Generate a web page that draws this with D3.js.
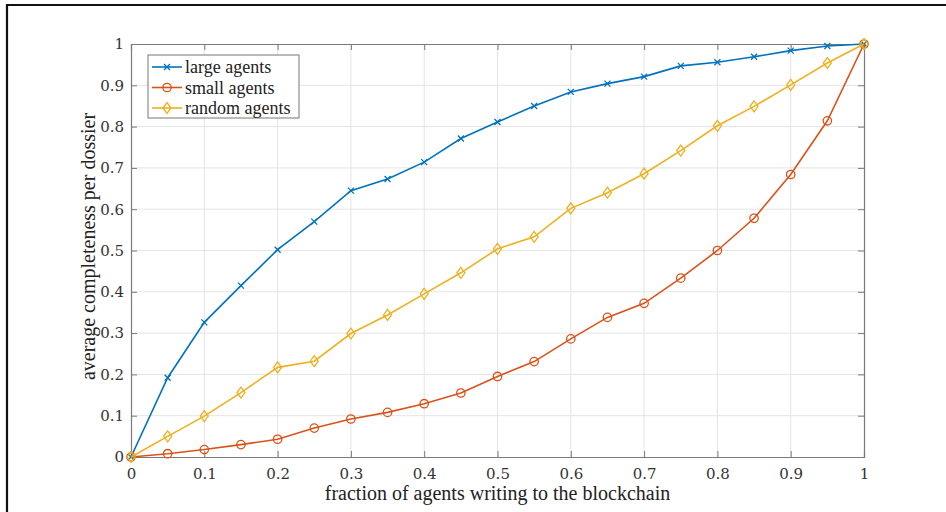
<!DOCTYPE html>
<html>
<head>
<meta charset="utf-8">
<script src="https://cdn.jsdelivr.net/npm/d3@7"></script>
<style>
  body { margin: 0; background: #fff; }
  svg { display: block; font-family: 'Liberation Serif', 'DejaVu Serif', serif; }
</style>
</head>
<body>
<svg id="chart" width="946" height="512"></svg>
<script>
// fraction of agents writing to the blockchain
const fractions = [0, 0.05, 0.1, 0.15, 0.2, 0.25, 0.3, 0.35, 0.4, 0.45, 0.5,
  0.55, 0.6, 0.65, 0.7, 0.75, 0.8, 0.85, 0.9, 0.95, 1]

const largeAgents = [0, 0.192, 0.326, 0.415, 0.502, 0.570, 0.645, 0.673, 0.714, 0.771, 0.811,
  0.850, 0.884, 0.904, 0.921, 0.947, 0.956, 0.969, 0.984, 0.995, 1]
const smallAgents = [0, 0.008, 0.018, 0.030, 0.043, 0.070, 0.092, 0.108, 0.129, 0.155, 0.195,
  0.231, 0.286, 0.338, 0.372, 0.433, 0.500, 0.578, 0.684, 0.814, 1]
const randomAgents = [0, 0.050, 0.099, 0.156, 0.217, 0.232, 0.299, 0.344, 0.395, 0.446, 0.504,
  0.533, 0.602, 0.640, 0.686, 0.742, 0.802, 0.849, 0.901, 0.954, 1]

const xTicks = [0, 0.1, 0.2, 0.3, 0.4, 0.5, 0.6, 0.7, 0.8, 0.9, 1]
const yTicks = [0, 0.1, 0.2, 0.3, 0.4, 0.5, 0.6, 0.7, 0.8, 0.9, 1]

const series = [
  { name: 'large agents', values: largeAgents, color: '#0072BD', marker: 'x' },
  { name: 'small agents', values: smallAgents, color: '#D95319', marker: 'o' },
  { name: 'random agents', values: randomAgents, color: '#EDB120', marker: 'd' }
]

const svg = d3.select('#chart')
const margin = { left: 131, top: 44, right: 82, bottom: 55 }
const W = 946, H = 512
const iw = W - margin.left - margin.right
const ih = H - margin.top - margin.bottom

// outer frame (top and left edges visible)
svg.append('path')
  .attr('d', 'M7,512 V5 H946')
  .attr('fill', 'none')
  .attr('stroke', '#111')
  .attr('stroke-width', 2.2)

const x = d3.scaleLinear().domain([0, 1]).range([0, iw])
const y = d3.scaleLinear().domain([0, 1]).range([ih, 0])

const g = svg.append('g').attr('transform', `translate(${margin.left},${margin.top})`)

// grid
g.append('g').selectAll('line').data(xTicks.slice(1, -1)).join('line')
  .attr('x1', d => x(d)).attr('x2', d => x(d))
  .attr('y1', 0).attr('y2', ih)
  .attr('stroke', '#e4e4e4').attr('stroke-width', 1)
g.append('g').selectAll('line').data(yTicks.slice(1, -1)).join('line')
  .attr('y1', d => y(d)).attr('y2', d => y(d))
  .attr('x1', 0).attr('x2', iw)
  .attr('stroke', '#e4e4e4').attr('stroke-width', 1)

// axes: ticks point inward, box on all sides
const fmt = d => (d === 0 || d === 1) ? String(d) : d3.format('.1f')(d)
const axisColor = '#7a7a7a'

const xAxis = g.append('g').attr('transform', `translate(0,${ih})`)
  .call(d3.axisBottom(x).tickValues(xTicks).tickSize(-6).tickPadding(11).tickFormat(fmt))
const xTop = g.append('g')
  .call(d3.axisTop(x).tickValues(xTicks).tickSize(-6).tickFormat(''))
const yAxis = g.append('g')
  .call(d3.axisLeft(y).tickValues(yTicks).tickSize(-6).tickPadding(7).tickFormat(fmt))
const yRight = g.append('g').attr('transform', `translate(${iw},0)`)
  .call(d3.axisRight(y).tickValues(yTicks).tickSize(-6).tickFormat(''))

;[xAxis, xTop, yAxis, yRight].forEach(a => {
  a.select('.domain').attr('stroke', axisColor).attr('stroke-width', 1.2)
  a.selectAll('.tick line').attr('stroke', axisColor)
  a.selectAll('.tick text').attr('fill', '#333').attr('font-size', 15)
    .attr('font-family', "'DejaVu Serif', serif")
})

// axis labels
svg.append('text')
  .attr('x', margin.left + iw / 2).attr('y', 500)
  .attr('text-anchor', 'middle')
  .attr('font-size', 20).attr('fill', '#222')
  .text('fraction of agents writing to the blockchain')

svg.append('text')
  .attr('transform', `translate(95,${margin.top + ih / 2 - 4}) rotate(-90)`)
  .attr('text-anchor', 'middle')
  .attr('font-size', 20).attr('fill', '#222')
  .text('average completeness per dossier')

// markers
function drawMarker (sel, type, color) {
  if (type === 'x') {
    sel.append('path').attr('d', 'M-3,-3L3,3M-3,3L3,-3')
      .attr('stroke', color).attr('stroke-width', 1.3).attr('fill', 'none')
  } else if (type === 'o') {
    sel.append('circle').attr('r', 4.2)
      .attr('stroke', color).attr('stroke-width', 1.3).attr('fill', 'none')
  } else {
    sel.append('path').attr('d', 'M0,-5.5L4,0L0,5.5L-4,0Z')
      .attr('stroke', color).attr('stroke-width', 1.3).attr('fill', 'none')
  }
}

const line = d3.line().x(d => x(d[0])).y(d => y(d[1]))

series.forEach(s => {
  const pts = fractions.map((f, i) => [f, s.values[i]])
  g.append('path').datum(pts)
    .attr('d', line)
    .attr('fill', 'none')
    .attr('stroke', s.color)
    .attr('stroke-width', 1.6)
  g.append('g').selectAll('g').data(pts).join('g')
    .attr('transform', d => `translate(${x(d[0])},${y(d[1])})`)
    .each(function () { drawMarker(d3.select(this), s.marker, s.color) })
})

// legend
const legend = svg.append('g').attr('transform', 'translate(148,55)')
legend.append('rect')
  .attr('width', 151).attr('height', 63)
  .attr('fill', '#fff').attr('stroke', '#777').attr('stroke-width', 1)
series.forEach((s, i) => {
  const row = legend.append('g').attr('transform', `translate(0,${12 + i * 20.5})`)
  row.append('line').attr('x1', 4).attr('x2', 34)
    .attr('stroke', s.color).attr('stroke-width', 1.6)
  drawMarker(row.append('g').attr('transform', 'translate(19,0)'), s.marker, s.color)
  row.append('text').attr('x', 37).attr('dy', '0.35em')
    .attr('font-size', 18).attr('fill', '#222')
    .text(s.name)
})
</script>
</body>
</html>
